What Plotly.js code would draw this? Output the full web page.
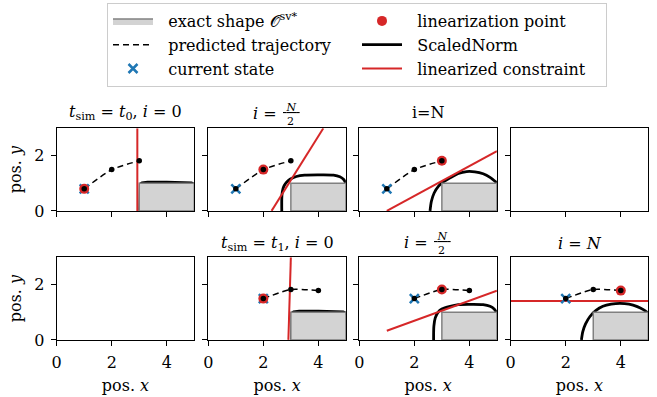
<!DOCTYPE html>
<html><head><meta charset="utf-8">
<script src="https://cdn.plot.ly/plotly-3.0.1.min.js"></script>
<style>html,body{margin:0;padding:0;background:#fff}#chart{width:657px;height:397px}</style>
</head><body><div id="chart"></div>
<script>
// ---------------- data ----------------
const boxX = [3, 5, 5, 3, 3];
const boxY = [0, 0, 1, 1, 0];

const trajX_t0 = [1, 2, 3];
const trajY_t0 = [0.8, 1.5, 1.82];
const trajX_t1 = [2, 3, 4];
const trajY_t1 = [1.5, 1.83, 1.79];

const stateX_t0 = [1], stateY_t0 = [0.8];
const stateX_t1 = [2], stateY_t1 = [1.5];

// linearization point per panel (panels 1..8, row-major; null = empty panel)
const linPtX = [1, 2, 3, null, null, 2, 3, 4];
const linPtY = [0.8, 1.5, 1.82, null, null, 1.5, 1.83, 1.79];

// linearized constraints
const con1X = [2.93, 2.93], con1Y = [0, 3];
const con2X = [2.30, 4.18], con2Y = [0, 3];
const con3X = [1, 5],       con3Y = [0, 2.17];
const con6X = [2.91, 3.0],  con6Y = [0, 3];
const con7X = [1, 5],       con7Y = [0.33, 1.79];
const con8X = [0, 5],       con8Y = [1.41, 1.41];

// ScaledNorm level curves
const norm0X = [3.02, 3.02, 3.04, 3.1, 3.3, 4.0, 4.7, 4.9, 4.97, 5.0];
const norm0Y = [0, 0.9, 0.98, 1.02, 1.04, 1.04, 1.04, 1.02, 0.98, 0.9];
const norm2X = [2.67, 2.67, 2.69, 2.74, 2.83, 2.97, 3.2, 3.5, 4.0, 4.55, 4.78, 4.92, 5.0];
const norm2Y = [0, 0.45, 0.7, 0.88, 1.03, 1.15, 1.25, 1.3, 1.31, 1.3, 1.24, 1.14, 1.0];
const norm3X = [2.57, 2.62, 2.72, 2.88, 3.05, 3.3, 3.6, 3.9, 4.2, 4.5, 4.75, 5.0];
const norm3Y = [0, 0.35, 0.65, 0.9, 1.05, 1.2, 1.36, 1.43, 1.42, 1.35, 1.22, 1.02];
const norm7X = [2.70, 2.71, 2.76, 2.86, 3.0, 3.3, 3.6, 4.0, 4.5, 4.75, 4.9, 5.0];
const norm7Y = [0, 0.5, 0.8, 1.0, 1.12, 1.22, 1.28, 1.29, 1.28, 1.22, 1.12, 0.97];
const norm8X = [2.57, 2.62, 2.72, 2.88, 3.1, 3.35, 3.65, 3.97, 4.3, 4.6, 4.82, 5.0];
const norm8Y = [0, 0.3, 0.58, 0.85, 1.07, 1.22, 1.3, 1.33, 1.3, 1.21, 1.1, 0.97];

const xTicks = [0, 2, 4];
const yTicks = [0, 2];
const xRange = [0, 5];
const yRange = [0, 3];

const legendNames = ['exact shape \uD835\uDCAA<sup>sv*</sup>', 'linearization point', 'predicted trajectory',
                     'ScaledNorm', 'current state', 'linearized constraint'];

// ---------------- styling ----------------
const W = 657, H = 397;
const FONT = 'DejaVu Serif';
const FS = 16;
const BLUE = '#1f77b4', RED = '#d62728';
const colLeft = [56.7, 208.3, 359.3, 510.7];
const plotW = 137.6;
const rowTop = [128.3, 257.3];
const plotH = 82.6;

function lname(i) {
  return '<span style="font-family:\'DejaVu Serif\'">\u00A0\u00A0' + legendNames[i] + '</span>';
}

const panels = [
  {traj: [trajX_t0, trajY_t0], state: [stateX_t0, stateY_t0], con: [con1X, con1Y], norm: [norm0X, norm0Y], spline: false},
  {traj: [trajX_t0, trajY_t0], state: [stateX_t0, stateY_t0], con: [con2X, con2Y], norm: [norm2X, norm2Y], spline: true},
  {traj: [trajX_t0, trajY_t0], state: [stateX_t0, stateY_t0], con: [con3X, con3Y], norm: [norm3X, norm3Y], spline: true},
  null,
  null,
  {traj: [trajX_t1, trajY_t1], state: [stateX_t1, stateY_t1], con: [con6X, con6Y], norm: [norm0X, norm0Y], spline: false},
  {traj: [trajX_t1, trajY_t1], state: [stateX_t1, stateY_t1], con: [con7X, con7Y], norm: [norm7X, norm7Y], spline: true},
  {traj: [trajX_t1, trajY_t1], state: [stateX_t1, stateY_t1], con: [con8X, con8Y], norm: [norm8X, norm8Y], spline: true}
];

const traces = [];
let first = true;
panels.forEach((p, k) => {
  const xa = k === 0 ? 'x' : 'x' + (k + 1);
  const ya = k === 0 ? 'y' : 'y' + (k + 1);
  if (!p) {
    traces.push({x: [], y: [], xaxis: xa, yaxis: ya, mode: 'markers', showlegend: false, hoverinfo: 'skip'});
    return;
  }
  const sl = first;
  traces.push({x: p.norm[0], y: p.norm[1], xaxis: xa, yaxis: ya, mode: 'lines', name: lname(3),
    line: {color: '#000', width: 2.8, shape: p.spline ? 'spline' : 'linear', smoothing: 0.8},
    showlegend: sl, legendrank: 4, hoverinfo: 'skip'});
  traces.push({x: boxX, y: boxY, xaxis: xa, yaxis: ya, mode: 'lines', fill: 'toself', fillcolor: '#d3d3d3',
    name: lname(0), line: {color: '#808080', width: 1.5}, showlegend: sl, legendrank: 1, hoverinfo: 'skip'});
  traces.push({x: p.con[0], y: p.con[1], xaxis: xa, yaxis: ya, mode: 'lines', name: lname(5),
    line: {color: RED, width: 2}, showlegend: sl, legendrank: 6, hoverinfo: 'skip'});
  traces.push({x: p.traj[0], y: p.traj[1], xaxis: xa, yaxis: ya, mode: 'lines', name: lname(2),
    line: {color: '#000', width: 1.5, dash: '6px,4px', shape: 'spline', smoothing: 0.6},
    showlegend: sl, legendrank: 3, hoverinfo: 'skip'});
  traces.push({x: p.state[0], y: p.state[1], xaxis: xa, yaxis: ya, mode: 'markers', name: lname(4),
    marker: {symbol: 'x-thin', size: 9, color: BLUE, line: {color: BLUE, width: 2.5}},
    showlegend: sl, legendrank: 5, hoverinfo: 'skip'});
  traces.push({x: [linPtX[k]], y: [linPtY[k]], xaxis: xa, yaxis: ya, mode: 'markers', name: lname(1),
    marker: {symbol: 'circle', size: 10, color: RED}, showlegend: sl, legendrank: 2, hoverinfo: 'skip'});
  traces.push({x: p.traj[0], y: p.traj[1], xaxis: xa, yaxis: ya, mode: 'markers', name: 'traj-pts',
    marker: {symbol: 'circle', size: 5.5, color: '#000'}, showlegend: false, hoverinfo: 'skip'});
  first = false;
});

const layout = {
  width: W, height: H,
  margin: {l: 0, r: 0, t: 0, b: 0},
  paper_bgcolor: '#fff', plot_bgcolor: '#fff',
  font: {family: FONT, size: FS, color: '#000'},
  showlegend: true,
  legend: {orientation: 'h', x: 107 / W, y: 1 - 3 / H, xanchor: 'left', yanchor: 'top',
    entrywidth: 194, itemwidth: 40, bgcolor: '#fff', bordercolor: '#cccccc', borderwidth: 1,
    font: {family: FONT, size: FS, color: '#000'}},
  annotations: []
};

for (let k = 0; k < 8; k++) {
  const r = Math.floor(k / 4), c = k % 4;
  const xn = k === 0 ? 'xaxis' : 'xaxis' + (k + 1);
  const yn = k === 0 ? 'yaxis' : 'yaxis' + (k + 1);
  const common = {showline: true, mirror: true, linecolor: '#000', linewidth: 1, showgrid: false,
    zeroline: false, ticks: 'outside', ticklen: 5, tickwidth: 1, tickcolor: '#000', fixedrange: true,
    tickfont: {family: FONT, size: FS}, ticklabelstandoff: 3};
  layout[xn] = Object.assign({}, common, {
    domain: [colLeft[c] / W, (colLeft[c] + plotW) / W], range: xRange, tickvals: xTicks,
    anchor: k === 0 ? 'y' : 'y' + (k + 1), showticklabels: r === 1
  });
  if (r === 1) layout[xn].title = {text: 'pos. <i>x</i>', standoff: 8, font: {family: FONT, size: FS}};
  layout[yn] = Object.assign({}, common, {
    domain: [1 - (rowTop[r] + plotH) / H, 1 - rowTop[r] / H], range: yRange, tickvals: yTicks,
    anchor: k === 0 ? 'x' : 'x' + (k + 1), showticklabels: c === 0
  });
  if (c === 0) layout[yn].title = {text: 'pos. <i>y</i>', standoff: 8, font: {family: FONT, size: FS}};
}

function colCenter(c) { return (colLeft[c] + plotW / 2) / W; }
function rowTopP(r) { return 1 - rowTop[r] / H; }
function title(text, r, c, shift) {
  layout.annotations.push({text: text, xref: 'paper', yref: 'paper', x: colCenter(c), y: rowTopP(r),
    xanchor: 'center', yanchor: 'middle', yshift: shift, showarrow: false, font: {family: FONT, size: FS}});
}
function fracTitle(r, c) {
  const x = colCenter(c), y = rowTopP(r);
  layout.annotations.push({text: '<i>i</i> =', xref: 'paper', yref: 'paper', x: x, y: y, xanchor: 'right',
    yanchor: 'middle', xshift: 2, yshift: 15, showarrow: false, font: {family: FONT, size: FS}});
  layout.annotations.push({text: '<span style="text-decoration:underline">\u00A0<i>N</i>\u00A0</span>', xref: 'paper', yref: 'paper', x: x, y: y,
    xanchor: 'left', yanchor: 'middle', xshift: 5, yshift: 20.5, borderpad: 0, showarrow: false, font: {family: FONT, size: 11}});
  layout.annotations.push({text: '2', xref: 'paper', yref: 'paper', x: x, y: y,
    xanchor: 'left', yanchor: 'middle', xshift: 9, yshift: 7, borderpad: 0, showarrow: false, font: {family: FONT, size: 11}});
}
title('<i>t</i><sub>sim</sub> = <i>t</i><sub>0</sub>, <i>i</i> = 0', 0, 0, 16);
fracTitle(0, 1);
title('i=N', 0, 2, 16);
title('<i>t</i><sub>sim</sub> = <i>t</i><sub>1</sub>, <i>i</i> = 0', 1, 1, 14);
fracTitle(1, 2);
title('<i>i</i> = <i>N</i>', 1, 3, 14);

Plotly.newPlot('chart', traces, layout, {displayModeBar: false, staticPlot: true});
</script></body></html>
